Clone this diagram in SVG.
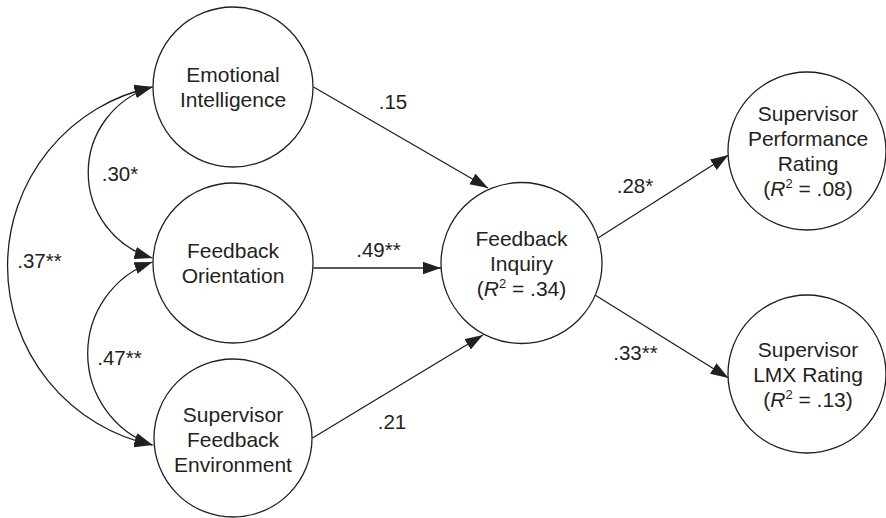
<svg xmlns="http://www.w3.org/2000/svg" width="886" height="518" viewBox="0 0 886 518">
  <defs>
    <style>
      .node circle { fill: #ffffff; stroke: #231f20; stroke-width: 1.3; }
      .node text, .lbl { font-family: "Liberation Sans", Arial, Helvetica, sans-serif; font-size: 21px; fill: #231f20; text-anchor: middle; }
      .lbl { font-size: 20.5px; }
      .edge { fill: none; stroke: #231f20; stroke-width: 1.3; }
      .path { marker-end: url(#head); }
      .cov { marker-start: url(#head); marker-end: url(#head); }
      .it { font-style: italic; }
      .sup { font-size: 13px; }
    </style>
    <marker id="head" markerUnits="userSpaceOnUse" markerWidth="18" markerHeight="13" viewBox="0 0 16 11" refX="16" refY="5.5" orient="auto-start-reverse">
      <path d="M0,0 L16,5.5 L0,11 z" fill="#231f20"/>
    </marker>
  </defs>

  <rect width="886" height="518" fill="#ffffff"/>

  <!-- connectors -->
  <g id="connectors">
    <!-- correlations among the predictors -->
    <path class="edge cov" d="M152.5,87 A89,89 0 0 0 152.5,258"/>
    <path class="edge cov" d="M152.5,262 A97,97 0 0 0 152.5,445"/>
    <path class="edge cov" d="M152.5,87 A183,183 0 0 0 152.5,445"/>
    <!-- direct paths -->
    <path class="edge path" d="M313.5,87 L488,188"/>
    <path class="edge path" d="M313.5,268 L441,268"/>
    <path class="edge path" d="M312.5,438 L483,335"/>
    <path class="edge path" d="M598,238 L728.5,155"/>
    <path class="edge path" d="M595,295 L728.5,378"/>
    <!-- coefficients -->
    <text class="lbl" x="120" y="181">.30*</text>
    <text class="lbl" x="39.5" y="268">.37**</text>
    <text class="lbl" x="119.5" y="365">.47**</text>
    <text class="lbl" x="393" y="109">.15</text>
    <text class="lbl" x="378.5" y="257">.49**</text>
    <text class="lbl" x="392" y="429">.21</text>
    <text class="lbl" x="635" y="193">.28*</text>
    <text class="lbl" x="635.5" y="360">.33**</text>
  </g>

  <g id="emotional-intelligence" class="node">
    <circle cx="233" cy="87" r="80"/>
    <text x="233" y="82">Emotional</text>
    <text x="233" y="107">Intelligence</text>
  </g>

  <g id="feedback-orientation" class="node">
    <circle cx="233" cy="263" r="80"/>
    <text x="233" y="258">Feedback</text>
    <text x="233" y="283">Orientation</text>
  </g>

  <g id="supervisor-feedback-environment" class="node">
    <circle cx="233" cy="438" r="79"/>
    <text x="233" y="422">Supervisor</text>
    <text x="233" y="447">Feedback</text>
    <text x="233" y="472">Environment</text>
  </g>

  <g id="feedback-inquiry" class="node">
    <circle cx="521.5" cy="263" r="80.5"/>
    <text x="521.5" y="246">Feedback</text>
    <text x="521.5" y="271">Inquiry</text>
    <text x="521.5" y="296">(<tspan class="it">R</tspan><tspan class="sup" dy="-8">2</tspan><tspan dy="8"> = .34)</tspan></text>
  </g>

  <g id="supervisor-performance-rating" class="node">
    <circle cx="807" cy="151" r="79"/>
    <text x="808" y="121">Supervisor</text>
    <text x="808" y="146">Performance</text>
    <text x="808" y="171">Rating</text>
    <text x="808" y="196">(<tspan class="it">R</tspan><tspan class="sup" dy="-8">2</tspan><tspan dy="8"> = .08)</tspan></text>
  </g>

  <g id="supervisor-lmx-rating" class="node">
    <circle cx="807" cy="374" r="79"/>
    <text x="808" y="357">Supervisor</text>
    <text x="808" y="382">LMX Rating</text>
    <text x="808" y="407">(<tspan class="it">R</tspan><tspan class="sup" dy="-8">2</tspan><tspan dy="8"> = .13)</tspan></text>
  </g>
</svg>
